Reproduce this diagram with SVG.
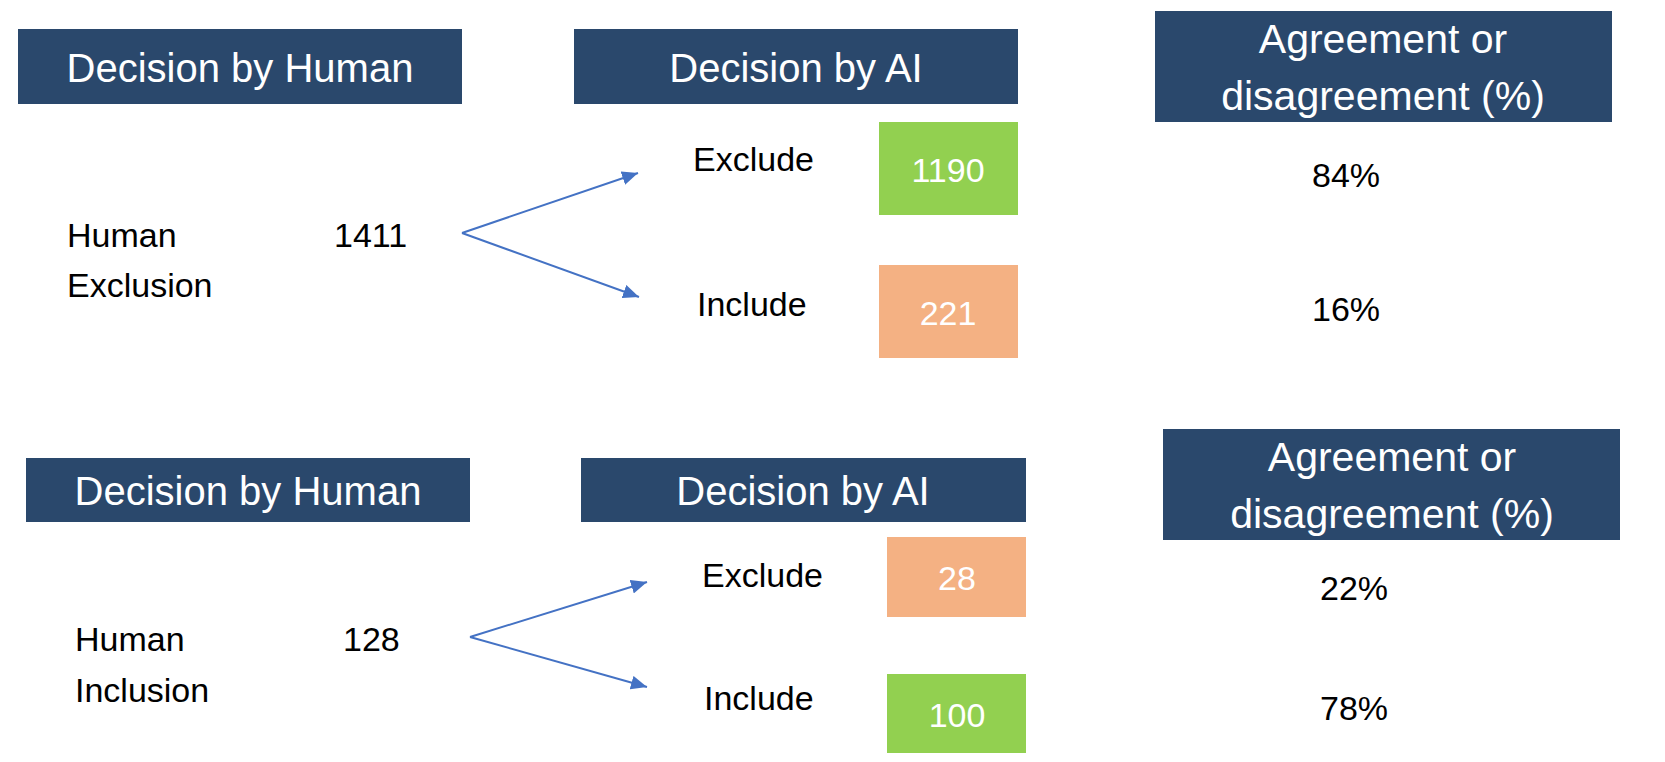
<svg xmlns="http://www.w3.org/2000/svg" width="1665" height="762" viewBox="0 0 1665 762">
<style>
.hdr{fill:#2A486C}
.ht{fill:#FFFFFF;font-family:"Liberation Sans",Arial,sans-serif;font-size:40px;text-anchor:middle}
.ht2{fill:#FFFFFF;font-family:"Liberation Sans",Arial,sans-serif;font-size:41px;text-anchor:middle}
.t{fill:#000000;font-family:"Liberation Sans",Arial,sans-serif;font-size:34px}
.tm{fill:#000000;font-family:"Liberation Sans",Arial,sans-serif;font-size:34px;text-anchor:middle}
.bt{fill:#FFFFFF;font-family:"Liberation Sans",Arial,sans-serif;font-size:34px;text-anchor:middle}
.green{fill:#92D050}
.orange{fill:#F4B183}
.conn{stroke:#4472C4;stroke-width:2;fill:none}
</style>
<defs>
<marker id="ah" markerUnits="userSpaceOnUse" markerWidth="18" markerHeight="14" refX="16" refY="7" orient="auto">
<path d="M0,0 L16,7 L0,14 Z" fill="#4472C4"/>
</marker>
</defs>
<rect width="1665" height="762" fill="#FFFFFF"/>

<g id="top-human-header"><rect class="hdr" x="18" y="29" width="444" height="75"/><text class="ht" x="240" y="82">Decision by Human</text></g>
<g id="top-ai-header"><rect class="hdr" x="574" y="29" width="444" height="75"/><text class="ht" x="796" y="82">Decision by AI</text></g>
<g id="top-agree-header"><rect class="hdr" x="1155" y="11" width="457" height="111"/><text class="ht2" x="1383" y="53">Agreement or</text><text class="ht2" x="1383" y="110">disagreement (%)</text></g>

<g id="top-human-label"><text class="t" x="67" y="247">Human</text><text class="t" x="67" y="297">Exclusion</text></g>
<g id="top-count"><text class="t" x="334" y="247">1411</text></g>
<g id="top-exclude-label"><text class="t" x="693" y="171">Exclude</text></g>
<g id="top-include-label"><text class="t" x="697" y="316">Include</text></g>
<g id="top-exclude-box"><rect class="green" x="879" y="122" width="139" height="93"/><text class="bt" x="948" y="182">1190</text></g>
<g id="top-include-box"><rect class="orange" x="879" y="265" width="139" height="93"/><text class="bt" x="948" y="325">221</text></g>
<g id="top-pct1"><text class="tm" x="1346" y="187">84%</text></g>
<g id="top-pct2"><text class="tm" x="1346" y="321">16%</text></g>

<g id="bot-human-header"><rect class="hdr" x="26" y="458" width="444" height="64"/><text class="ht" x="248" y="505">Decision by Human</text></g>
<g id="bot-ai-header"><rect class="hdr" x="581" y="458" width="445" height="64"/><text class="ht" x="803" y="505">Decision by AI</text></g>
<g id="bot-agree-header"><rect class="hdr" x="1163" y="429" width="457" height="111"/><text class="ht2" x="1392" y="471">Agreement or</text><text class="ht2" x="1392" y="528">disagreement (%)</text></g>

<g id="bot-human-label"><text class="t" x="75" y="651">Human</text><text class="t" x="75" y="702">Inclusion</text></g>
<g id="bot-count"><text class="t" x="343" y="651">128</text></g>
<g id="bot-exclude-label"><text class="t" x="702" y="587">Exclude</text></g>
<g id="bot-include-label"><text class="t" x="704" y="710">Include</text></g>
<g id="bot-exclude-box"><rect class="orange" x="887" y="537" width="139" height="80"/><text class="bt" x="957" y="590">28</text></g>
<g id="bot-include-box"><rect class="green" x="887" y="674" width="139" height="79"/><text class="bt" x="957" y="727">100</text></g>
<g id="bot-pct1"><text class="tm" x="1354" y="600">22%</text></g>
<g id="bot-pct2"><text class="tm" x="1354" y="720">78%</text></g>

<g id="connectors">
<path class="conn" d="M462,233 L638,173" marker-end="url(#ah)"/>
<path class="conn" d="M462,233 L639,297" marker-end="url(#ah)"/>
<path class="conn" d="M470,637 L647,582" marker-end="url(#ah)"/>
<path class="conn" d="M470,637 L647,687" marker-end="url(#ah)"/>
</g>
</svg>
